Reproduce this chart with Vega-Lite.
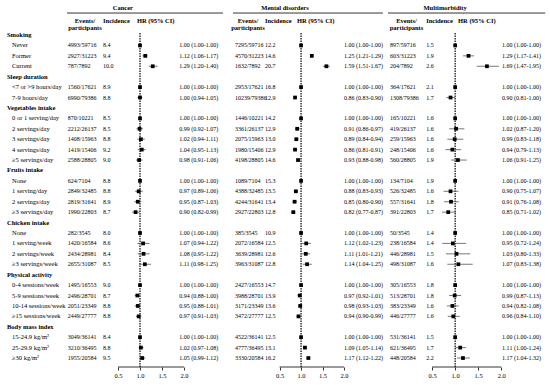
{
"$schema": "https://vega.github.io/schema/vega-lite/v6.json",
"padding": 0,
"spacing": 0,
"bounds": "flush",
"config": {"view": {"stroke": null}, "font": "Liberation Serif", "text": {"font": "Liberation Serif", "color": "#000"}},
"datasets": {
"labels": [
{"id":1,"label":"Smoking","t":"h"},{"id":2,"label":"Never","t":"i"},{"id":3,"label":"Former","t":"i"},{"id":4,"label":"Current","t":"i"},
{"id":5,"label":"Sleep duration","t":"h"},{"id":6,"label":"<7 or >9 hours/day","t":"i"},{"id":7,"label":"7-9 hours/day","t":"i"},
{"id":8,"label":"Vegetables intake","t":"h"},{"id":9,"label":"0 or 1 serving/day","t":"i"},{"id":10,"label":"2 servings/day","t":"i"},{"id":11,"label":"3 servings/day","t":"i"},{"id":12,"label":"4 servings/day","t":"i"},{"id":13,"label":"≥5 servings/day","t":"i"},
{"id":14,"label":"Fruits intake","t":"h"},{"id":15,"label":"None","t":"i"},{"id":16,"label":"1 serving/day","t":"i"},{"id":17,"label":"2 servings/day","t":"i"},{"id":18,"label":"≥3 servings/day","t":"i"},
{"id":19,"label":"Chicken intake","t":"h"},{"id":20,"label":"None","t":"i"},{"id":21,"label":"1 serving/week","t":"i"},{"id":22,"label":"2 servings/week","t":"i"},{"id":23,"label":"≥3 servings/week","t":"i"},
{"id":24,"label":"Physical activity","t":"h"},{"id":25,"label":"0-4 sessions/week","t":"i"},{"id":26,"label":"5-9 sessions/week","t":"i"},{"id":27,"label":"10-14 sessions/week","t":"i"},{"id":28,"label":"≥15 sessions/week","t":"i"},
{"id":29,"label":"Body mass index","t":"h"},{"id":30,"label":"15-24.9 kg/m²","t":"i"},{"id":31,"label":"25-29.9 kg/m²","t":"i"},{"id":32,"label":"≥30 kg/m²","t":"i"}
],
"res": [
{"o":"C","id":2,"ev":"4993/59716","inc":8.4,"hr":1.00,"lo":1.00,"hi":1.00},
{"o":"C","id":3,"ev":"2927/31223","inc":9.4,"hr":1.12,"lo":1.06,"hi":1.17},
{"o":"C","id":4,"ev":"787/7892","inc":10.0,"hr":1.29,"lo":1.20,"hi":1.40},
{"o":"C","id":6,"ev":"1560/17621","inc":8.9,"hr":1.00,"lo":1.00,"hi":1.00},
{"o":"C","id":7,"ev":"6990/79386","inc":8.8,"hr":1.00,"lo":0.94,"hi":1.05},
{"o":"C","id":9,"ev":"870/10221","inc":8.5,"hr":1.00,"lo":1.00,"hi":1.00},
{"o":"C","id":10,"ev":"2212/26137","inc":8.5,"hr":0.99,"lo":0.92,"hi":1.07},
{"o":"C","id":11,"ev":"1408/15963","inc":8.8,"hr":1.02,"lo":0.94,"hi":1.11},
{"o":"C","id":12,"ev":"1419/15406","inc":9.2,"hr":1.04,"lo":0.95,"hi":1.13},
{"o":"C","id":13,"ev":"2588/28805","inc":9.0,"hr":0.98,"lo":0.91,"hi":1.06},
{"o":"C","id":15,"ev":"624/7104","inc":8.8,"hr":1.00,"lo":1.00,"hi":1.00},
{"o":"C","id":16,"ev":"2849/32485","inc":8.8,"hr":0.97,"lo":0.89,"hi":1.06},
{"o":"C","id":17,"ev":"2819/31641","inc":8.9,"hr":0.95,"lo":0.87,"hi":1.03},
{"o":"C","id":18,"ev":"1990/22803","inc":8.7,"hr":0.90,"lo":0.82,"hi":0.99},
{"o":"C","id":20,"ev":"282/3545","inc":8.0,"hr":1.00,"lo":1.00,"hi":1.00},
{"o":"C","id":21,"ev":"1420/16584","inc":8.6,"hr":1.07,"lo":0.94,"hi":1.22},
{"o":"C","id":22,"ev":"2434/28981","inc":8.4,"hr":1.08,"lo":0.95,"hi":1.22},
{"o":"C","id":23,"ev":"2655/31087","inc":8.5,"hr":1.11,"lo":0.98,"hi":1.25},
{"o":"C","id":25,"ev":"1495/16553","inc":9.0,"hr":1.00,"lo":1.00,"hi":1.00},
{"o":"C","id":26,"ev":"2496/28701","inc":8.7,"hr":0.94,"lo":0.88,"hi":1.00},
{"o":"C","id":27,"ev":"2051/23349","inc":8.8,"hr":0.95,"lo":0.88,"hi":1.01},
{"o":"C","id":28,"ev":"2449/27777","inc":8.8,"hr":0.97,"lo":0.91,"hi":1.03},
{"o":"C","id":30,"ev":"3049/36141","inc":8.4,"hr":1.00,"lo":1.00,"hi":1.00},
{"o":"C","id":31,"ev":"3210/36495","inc":8.8,"hr":1.02,"lo":0.97,"hi":1.08},
{"o":"C","id":32,"ev":"1955/20584","inc":9.5,"hr":1.05,"lo":0.99,"hi":1.12},
{"o":"M","id":2,"ev":"7295/59716","inc":12.2,"hr":1.00,"lo":1.00,"hi":1.00},
{"o":"M","id":3,"ev":"4570/31223","inc":14.6,"hr":1.25,"lo":1.21,"hi":1.29},
{"o":"M","id":4,"ev":"1632/7892","inc":20.7,"hr":1.59,"lo":1.51,"hi":1.67},
{"o":"M","id":6,"ev":"2953/17621","inc":16.8,"hr":1.00,"lo":1.00,"hi":1.00},
{"o":"M","id":7,"ev":"10239/79386","inc":12.9,"hr":0.86,"lo":0.83,"hi":0.90},
{"o":"M","id":9,"ev":"1446/10221","inc":14.2,"hr":1.00,"lo":1.00,"hi":1.00},
{"o":"M","id":10,"ev":"3361/26137","inc":12.9,"hr":0.91,"lo":0.86,"hi":0.97},
{"o":"M","id":11,"ev":"2075/15963","inc":13.0,"hr":0.89,"lo":0.84,"hi":0.94},
{"o":"M","id":12,"ev":"1980/15406","inc":12.9,"hr":0.86,"lo":0.81,"hi":0.91},
{"o":"M","id":13,"ev":"4198/28805","inc":14.6,"hr":0.93,"lo":0.88,"hi":0.98},
{"o":"M","id":15,"ev":"1089/7104","inc":15.3,"hr":1.00,"lo":1.00,"hi":1.00},
{"o":"M","id":16,"ev":"4388/32485","inc":13.5,"hr":0.88,"lo":0.83,"hi":0.93},
{"o":"M","id":17,"ev":"4244/31641","inc":13.4,"hr":0.85,"lo":0.80,"hi":0.90},
{"o":"M","id":18,"ev":"2927/22803","inc":12.8,"hr":0.82,"lo":0.77,"hi":0.87},
{"o":"M","id":20,"ev":"385/3545","inc":10.9,"hr":1.00,"lo":1.00,"hi":1.00},
{"o":"M","id":21,"ev":"2072/16584","inc":12.5,"hr":1.12,"lo":1.02,"hi":1.23},
{"o":"M","id":22,"ev":"3639/28981","inc":12.6,"hr":1.11,"lo":1.01,"hi":1.21},
{"o":"M","id":23,"ev":"3963/31087","inc":12.8,"hr":1.14,"lo":1.04,"hi":1.25},
{"o":"M","id":25,"ev":"2427/16553","inc":14.7,"hr":1.00,"lo":1.00,"hi":1.00},
{"o":"M","id":26,"ev":"3988/28701","inc":13.9,"hr":0.97,"lo":0.92,"hi":1.01},
{"o":"M","id":27,"ev":"3171/23349","inc":13.6,"hr":0.98,"lo":0.93,"hi":1.03},
{"o":"M","id":28,"ev":"3472/27777","inc":12.5,"hr":0.94,"lo":0.90,"hi":0.99},
{"o":"M","id":30,"ev":"4522/36141","inc":12.5,"hr":1.00,"lo":1.00,"hi":1.00},
{"o":"M","id":31,"ev":"4777/36495","inc":13.1,"hr":1.09,"lo":1.05,"hi":1.14},
{"o":"M","id":32,"ev":"3330/20584","inc":16.2,"hr":1.17,"lo":1.12,"hi":1.22},
{"o":"U","id":2,"ev":"897/59716","inc":1.5,"hr":1.00,"lo":1.00,"hi":1.00},
{"o":"U","id":3,"ev":"603/31223","inc":1.9,"hr":1.29,"lo":1.17,"hi":1.41},
{"o":"U","id":4,"ev":"204/7892","inc":2.6,"hr":1.69,"lo":1.47,"hi":1.95},
{"o":"U","id":6,"ev":"364/17621","inc":2.1,"hr":1.00,"lo":1.00,"hi":1.00},
{"o":"U","id":7,"ev":"1308/79386","inc":1.7,"hr":0.90,"lo":0.81,"hi":1.00},
{"o":"U","id":9,"ev":"165/10221","inc":1.6,"hr":1.00,"lo":1.00,"hi":1.00},
{"o":"U","id":10,"ev":"419/26137","inc":1.6,"hr":1.02,"lo":0.87,"hi":1.20},
{"o":"U","id":11,"ev":"259/15963","inc":1.6,"hr":0.99,"lo":0.83,"hi":1.18},
{"o":"U","id":12,"ev":"248/15406","inc":1.6,"hr":0.94,"lo":0.79,"hi":1.13},
{"o":"U","id":13,"ev":"560/28805","inc":1.9,"hr":1.06,"lo":0.91,"hi":1.25},
{"o":"U","id":15,"ev":"134/7104","inc":1.9,"hr":1.00,"lo":1.00,"hi":1.00},
{"o":"U","id":16,"ev":"526/32485","inc":1.6,"hr":0.90,"lo":0.75,"hi":1.07},
{"o":"U","id":17,"ev":"557/31641","inc":1.8,"hr":0.91,"lo":0.76,"hi":1.08},
{"o":"U","id":18,"ev":"391/22803","inc":1.7,"hr":0.85,"lo":0.71,"hi":1.02},
{"o":"U","id":20,"ev":"50/3545","inc":1.4,"hr":1.00,"lo":1.00,"hi":1.00},
{"o":"U","id":21,"ev":"238/16584","inc":1.4,"hr":0.95,"lo":0.72,"hi":1.24},
{"o":"U","id":22,"ev":"446/28981","inc":1.5,"hr":1.03,"lo":0.80,"hi":1.33},
{"o":"U","id":23,"ev":"498/31087","inc":1.6,"hr":1.07,"lo":0.83,"hi":1.38},
{"o":"U","id":25,"ev":"305/16553","inc":1.8,"hr":1.00,"lo":1.00,"hi":1.00},
{"o":"U","id":26,"ev":"513/28701","inc":1.8,"hr":0.99,"lo":0.87,"hi":1.13},
{"o":"U","id":27,"ev":"383/23349","inc":1.6,"hr":0.94,"lo":0.82,"hi":1.08},
{"o":"U","id":28,"ev":"446/27777","inc":1.6,"hr":0.96,"lo":0.84,"hi":1.10},
{"o":"U","id":30,"ev":"531/36141","inc":1.5,"hr":1.00,"lo":1.00,"hi":1.00},
{"o":"U","id":31,"ev":"621/36495","inc":1.7,"hr":1.11,"lo":1.00,"hi":1.24},
{"o":"U","id":32,"ev":"448/20584","inc":2.2,"hr":1.17,"lo":1.04,"hi":1.32}
]
},
"hconcat": [
{
"width": 63, "height": 367,
"data": {"name": "labels"},
"layer": [
{"transform": [{"filter": "datum.t=='h'"}],
 "mark": {"type": "text", "align": "left", "baseline": "middle", "dx": 7, "fontSize": 6.5, "fontWeight": "bold"},
 "encoding": {"x": {"value": 0}, "y": {"field": "id", "type": "quantitative", "axis": null, "scale": {"domain": [-2.36, 32.86], "reverse": true, "nice": false, "zero": false}}, "text": {"field": "label"}}},
{"transform": [{"filter": "datum.t=='i'"}],
 "mark": {"type": "text", "align": "left", "baseline": "middle", "dx": 12, "fontSize": 6.5},
 "encoding": {"x": {"value": 0}, "y": {"field": "id", "type": "quantitative", "axis": null, "scale": {"domain": [-2.36, 32.86], "reverse": true, "nice": false, "zero": false}}, "text": {"field": "label"}}}
]
},
{
"width": 165, "height": 367,
"data": {"name": "res"},
"transform": [{"filter": "datum.o=='C'"}, {"calculate": "format(datum.hr,'.2f') + ' (' + format(datum.lo,'.2f') + '-' + format(datum.hi,'.2f') + ')'", "as": "hrt"}],
"layer": [
{"data": {"values": [{}]}, "mark": {"type": "rule", "color": "#000", "strokeWidth": 0.8},
 "encoding": {"x": {"datum": -0.66, "type": "quantitative", "scale": {"domain": [-0.75, 3.0], "nice": false, "zero": false}, "axis": {"values": [0.5, 1, 1.5, 2], "format": ".1f", "domain": false, "grid": false, "title": null, "tickSize": 3, "tickColor": "#000", "tickWidth": 0.8, "labelFontSize": 6.5, "labelColor": "#000", "labelPadding": 2, "labelFont": "Liberation Serif"}}, "x2": {"datum": 2.886},
  "y": {"datum": -1.11, "type": "quantitative", "axis": null, "scale": {"domain": [-2.36, 32.86], "reverse": true, "nice": false, "zero": false}}}},
{"data": {"values": [{}]}, "mark": {"type": "text", "align": "center", "baseline": "middle", "fontSize": 6.5, "fontWeight": "bold"},
 "encoding": {"x": {"datum": 0.61, "type": "quantitative", "scale": {"domain": [-0.75, 3.0], "nice": false, "zero": false}, "axis": {"values": [0.5, 1, 1.5, 2], "format": ".1f", "domain": false, "grid": false, "title": null, "tickSize": 3, "tickColor": "#000", "tickWidth": 0.8, "labelFontSize": 6.5, "labelColor": "#000", "labelPadding": 2, "labelFont": "Liberation Serif"}},
  "y": {"datum": -1.59, "type": "quantitative", "axis": null, "scale": {"domain": [-2.36, 32.86], "reverse": true, "nice": false, "zero": false}}, "text": {"value": "Cancer"}}},
{"data": {"values": [{}]}, "mark": {"type": "text", "align": "center", "baseline": "middle", "fontSize": 6.5, "fontWeight": "bold", "lineHeight": 7.5},
 "encoding": {"x": {"datum": -0.25, "type": "quantitative", "scale": {"domain": [-0.75, 3.0], "nice": false, "zero": false}, "axis": {"values": [0.5, 1, 1.5, 2], "format": ".1f", "domain": false, "grid": false, "title": null, "tickSize": 3, "tickColor": "#000", "tickWidth": 0.8, "labelFontSize": 6.5, "labelColor": "#000", "labelPadding": 2, "labelFont": "Liberation Serif"}},
  "y": {"datum": -0.37, "type": "quantitative", "axis": null, "scale": {"domain": [-2.36, 32.86], "reverse": true, "nice": false, "zero": false}}, "text": {"value": ["Events/", "participants"]}}},
{"data": {"values": [{}]}, "mark": {"type": "text", "align": "left", "baseline": "middle", "fontSize": 6.5, "fontWeight": "bold"},
 "encoding": {"x": {"datum": 0.16, "type": "quantitative", "scale": {"domain": [-0.75, 3.0], "nice": false, "zero": false}, "axis": {"values": [0.5, 1, 1.5, 2], "format": ".1f", "domain": false, "grid": false, "title": null, "tickSize": 3, "tickColor": "#000", "tickWidth": 0.8, "labelFontSize": 6.5, "labelColor": "#000", "labelPadding": 2, "labelFont": "Liberation Serif"}},
  "y": {"datum": -0.34, "type": "quantitative", "axis": null, "scale": {"domain": [-2.36, 32.86], "reverse": true, "nice": false, "zero": false}}, "text": {"value": "Incidence"}}},
{"data": {"values": [{}]}, "mark": {"type": "text", "align": "left", "baseline": "middle", "fontSize": 6.5, "fontWeight": "bold"},
 "encoding": {"x": {"datum": 0.93, "type": "quantitative", "scale": {"domain": [-0.75, 3.0], "nice": false, "zero": false}, "axis": {"values": [0.5, 1, 1.5, 2], "format": ".1f", "domain": false, "grid": false, "title": null, "tickSize": 3, "tickColor": "#000", "tickWidth": 0.8, "labelFontSize": 6.5, "labelColor": "#000", "labelPadding": 2, "labelFont": "Liberation Serif"}},
  "y": {"datum": -0.34, "type": "quantitative", "axis": null, "scale": {"domain": [-2.36, 32.86], "reverse": true, "nice": false, "zero": false}}, "text": {"value": "HR (95% CI)"}}},
{"mark": {"type": "text", "align": "left", "baseline": "middle", "fontSize": 6},
 "encoding": {"x": {"datum": -0.64, "type": "quantitative", "scale": {"domain": [-0.75, 3.0], "nice": false, "zero": false}, "axis": {"values": [0.5, 1, 1.5, 2], "format": ".1f", "domain": false, "grid": false, "title": null, "tickSize": 3, "tickColor": "#000", "tickWidth": 0.8, "labelFontSize": 6.5, "labelColor": "#000", "labelPadding": 2, "labelFont": "Liberation Serif"}},
  "y": {"field": "id", "type": "quantitative", "axis": null, "scale": {"domain": [-2.36, 32.86], "reverse": true, "nice": false, "zero": false}}, "text": {"field": "ev"}}},
{"mark": {"type": "text", "align": "left", "baseline": "middle", "fontSize": 6},
 "encoding": {"x": {"datum": 0.16, "type": "quantitative", "scale": {"domain": [-0.75, 3.0], "nice": false, "zero": false}, "axis": {"values": [0.5, 1, 1.5, 2], "format": ".1f", "domain": false, "grid": false, "title": null, "tickSize": 3, "tickColor": "#000", "tickWidth": 0.8, "labelFontSize": 6.5, "labelColor": "#000", "labelPadding": 2, "labelFont": "Liberation Serif"}},
  "y": {"field": "id", "type": "quantitative", "axis": null, "scale": {"domain": [-2.36, 32.86], "reverse": true, "nice": false, "zero": false}}, "text": {"field": "inc", "format": ".1f"}}},
{"mark": {"type": "text", "align": "left", "baseline": "middle", "fontSize": 6},
 "encoding": {"x": {"datum": 1.89, "type": "quantitative", "scale": {"domain": [-0.75, 3.0], "nice": false, "zero": false}, "axis": {"values": [0.5, 1, 1.5, 2], "format": ".1f", "domain": false, "grid": false, "title": null, "tickSize": 3, "tickColor": "#000", "tickWidth": 0.8, "labelFontSize": 6.5, "labelColor": "#000", "labelPadding": 2, "labelFont": "Liberation Serif"}},
  "y": {"field": "id", "type": "quantitative", "axis": null, "scale": {"domain": [-2.36, 32.86], "reverse": true, "nice": false, "zero": false}}, "text": {"field": "hrt"}}},
{"data": {"values": [{}]}, "mark": {"type": "rule", "color": "#000", "strokeWidth": 1.2, "strokeDash": [1.5, 1]},
 "encoding": {"x": {"datum": 1.0, "type": "quantitative", "scale": {"domain": [-0.75, 3.0], "nice": false, "zero": false}, "axis": {"values": [0.5, 1, 1.5, 2], "format": ".1f", "domain": false, "grid": false, "title": null, "tickSize": 3, "tickColor": "#000", "tickWidth": 0.8, "labelFontSize": 6.5, "labelColor": "#000", "labelPadding": 2, "labelFont": "Liberation Serif"}},
  "y": {"datum": 0.8, "type": "quantitative", "axis": null, "scale": {"domain": [-2.36, 32.86], "reverse": true, "nice": false, "zero": false}}, "y2": {"datum": 32.86}}},
{"data": {"values": [{}]}, "mark": {"type": "rule", "color": "#000", "strokeWidth": 0.8},
 "encoding": {"x": {"datum": 0.5, "type": "quantitative", "scale": {"domain": [-0.75, 3.0], "nice": false, "zero": false}, "axis": {"values": [0.5, 1, 1.5, 2], "format": ".1f", "domain": false, "grid": false, "title": null, "tickSize": 3, "tickColor": "#000", "tickWidth": 0.8, "labelFontSize": 6.5, "labelColor": "#000", "labelPadding": 2, "labelFont": "Liberation Serif"}}, "x2": {"datum": 2.0},
  "y": {"datum": 32.86, "type": "quantitative", "axis": null, "scale": {"domain": [-2.36, 32.86], "reverse": true, "nice": false, "zero": false}}}},
{"mark": {"type": "rule", "color": "#555", "strokeWidth": 0.8},
 "encoding": {"x": {"field": "lo", "type": "quantitative", "scale": {"domain": [-0.75, 3.0], "nice": false, "zero": false}, "axis": {"values": [0.5, 1, 1.5, 2], "format": ".1f", "domain": false, "grid": false, "title": null, "tickSize": 3, "tickColor": "#000", "tickWidth": 0.8, "labelFontSize": 6.5, "labelColor": "#000", "labelPadding": 2, "labelFont": "Liberation Serif"}}, "x2": {"field": "hi"},
  "y": {"field": "id", "type": "quantitative", "axis": null, "scale": {"domain": [-2.36, 32.86], "reverse": true, "nice": false, "zero": false}}}},
{"mark": {"type": "square", "color": "#000", "size": 14, "opacity": 1},
 "encoding": {"x": {"field": "hr", "type": "quantitative", "scale": {"domain": [-0.75, 3.0], "nice": false, "zero": false}, "axis": {"values": [0.5, 1, 1.5, 2], "format": ".1f", "domain": false, "grid": false, "title": null, "tickSize": 3, "tickColor": "#000", "tickWidth": 0.8, "labelFontSize": 6.5, "labelColor": "#000", "labelPadding": 2, "labelFont": "Liberation Serif"}},
  "y": {"field": "id", "type": "quantitative", "axis": null, "scale": {"domain": [-2.36, 32.86], "reverse": true, "nice": false, "zero": false}}}}
]
},
{
"width": 159, "height": 367,
"data": {"name": "res"},
"transform": [{"filter": "datum.o=='M'"}, {"calculate": "format(datum.hr,'.2f') + ' (' + format(datum.lo,'.2f') + '-' + format(datum.hi,'.2f') + ')'", "as": "hrt"}],
"layer": [
{"data": {"values": [{}]}, "mark": {"type": "rule", "color": "#000", "strokeWidth": 0.8},
 "encoding": {"x": {"datum": -0.584, "type": "quantitative", "scale": {"domain": [-0.7, 3.0], "nice": false, "zero": false}, "axis": {"values": [0.5, 1, 1.5, 2], "format": ".1f", "domain": false, "grid": false, "title": null, "tickSize": 3, "tickColor": "#000", "tickWidth": 0.8, "labelFontSize": 6.5, "labelColor": "#000", "labelPadding": 2, "labelFont": "Liberation Serif"}}, "x2": {"datum": 2.905},
  "y": {"datum": -1.11, "type": "quantitative", "axis": null, "scale": {"domain": [-2.36, 32.86], "reverse": true, "nice": false, "zero": false}}}},
{"data": {"values": [{}]}, "mark": {"type": "text", "align": "center", "baseline": "middle", "fontSize": 6.5, "fontWeight": "bold"},
 "encoding": {"x": {"datum": 0.626, "type": "quantitative", "scale": {"domain": [-0.7, 3.0], "nice": false, "zero": false}, "axis": {"values": [0.5, 1, 1.5, 2], "format": ".1f", "domain": false, "grid": false, "title": null, "tickSize": 3, "tickColor": "#000", "tickWidth": 0.8, "labelFontSize": 6.5, "labelColor": "#000", "labelPadding": 2, "labelFont": "Liberation Serif"}},
  "y": {"datum": -1.59, "type": "quantitative", "axis": null, "scale": {"domain": [-2.36, 32.86], "reverse": true, "nice": false, "zero": false}}, "text": {"value": "Mental disorders"}}},
{"data": {"values": [{}]}, "mark": {"type": "text", "align": "center", "baseline": "middle", "fontSize": 6.5, "fontWeight": "bold", "lineHeight": 7.5},
 "encoding": {"x": {"datum": -0.235, "type": "quantitative", "scale": {"domain": [-0.7, 3.0], "nice": false, "zero": false}, "axis": {"values": [0.5, 1, 1.5, 2], "format": ".1f", "domain": false, "grid": false, "title": null, "tickSize": 3, "tickColor": "#000", "tickWidth": 0.8, "labelFontSize": 6.5, "labelColor": "#000", "labelPadding": 2, "labelFont": "Liberation Serif"}},
  "y": {"datum": -0.37, "type": "quantitative", "axis": null, "scale": {"domain": [-2.36, 32.86], "reverse": true, "nice": false, "zero": false}}, "text": {"value": ["Events/", "participants"]}}},
{"data": {"values": [{}]}, "mark": {"type": "text", "align": "left", "baseline": "middle", "fontSize": 6.5, "fontWeight": "bold"},
 "encoding": {"x": {"datum": 0.16, "type": "quantitative", "scale": {"domain": [-0.7, 3.0], "nice": false, "zero": false}, "axis": {"values": [0.5, 1, 1.5, 2], "format": ".1f", "domain": false, "grid": false, "title": null, "tickSize": 3, "tickColor": "#000", "tickWidth": 0.8, "labelFontSize": 6.5, "labelColor": "#000", "labelPadding": 2, "labelFont": "Liberation Serif"}},
  "y": {"datum": -0.34, "type": "quantitative", "axis": null, "scale": {"domain": [-2.36, 32.86], "reverse": true, "nice": false, "zero": false}}, "text": {"value": "Incidence"}}},
{"data": {"values": [{}]}, "mark": {"type": "text", "align": "left", "baseline": "middle", "fontSize": 6.5, "fontWeight": "bold"},
 "encoding": {"x": {"datum": 0.905, "type": "quantitative", "scale": {"domain": [-0.7, 3.0], "nice": false, "zero": false}, "axis": {"values": [0.5, 1, 1.5, 2], "format": ".1f", "domain": false, "grid": false, "title": null, "tickSize": 3, "tickColor": "#000", "tickWidth": 0.8, "labelFontSize": 6.5, "labelColor": "#000", "labelPadding": 2, "labelFont": "Liberation Serif"}},
  "y": {"datum": -0.34, "type": "quantitative", "axis": null, "scale": {"domain": [-2.36, 32.86], "reverse": true, "nice": false, "zero": false}}, "text": {"value": "HR (95% CI)"}}},
{"mark": {"type": "text", "align": "left", "baseline": "middle", "fontSize": 6},
 "encoding": {"x": {"datum": -0.54, "type": "quantitative", "scale": {"domain": [-0.7, 3.0], "nice": false, "zero": false}, "axis": {"values": [0.5, 1, 1.5, 2], "format": ".1f", "domain": false, "grid": false, "title": null, "tickSize": 3, "tickColor": "#000", "tickWidth": 0.8, "labelFontSize": 6.5, "labelColor": "#000", "labelPadding": 2, "labelFont": "Liberation Serif"}},
  "y": {"field": "id", "type": "quantitative", "axis": null, "scale": {"domain": [-2.36, 32.86], "reverse": true, "nice": false, "zero": false}}, "text": {"field": "ev"}}},
{"mark": {"type": "text", "align": "left", "baseline": "middle", "fontSize": 6},
 "encoding": {"x": {"datum": 0.16, "type": "quantitative", "scale": {"domain": [-0.7, 3.0], "nice": false, "zero": false}, "axis": {"values": [0.5, 1, 1.5, 2], "format": ".1f", "domain": false, "grid": false, "title": null, "tickSize": 3, "tickColor": "#000", "tickWidth": 0.8, "labelFontSize": 6.5, "labelColor": "#000", "labelPadding": 2, "labelFont": "Liberation Serif"}},
  "y": {"field": "id", "type": "quantitative", "axis": null, "scale": {"domain": [-2.36, 32.86], "reverse": true, "nice": false, "zero": false}}, "text": {"field": "inc", "format": ".1f"}}},
{"mark": {"type": "text", "align": "left", "baseline": "middle", "fontSize": 6},
 "encoding": {"x": {"datum": 2.0, "type": "quantitative", "scale": {"domain": [-0.7, 3.0], "nice": false, "zero": false}, "axis": {"values": [0.5, 1, 1.5, 2], "format": ".1f", "domain": false, "grid": false, "title": null, "tickSize": 3, "tickColor": "#000", "tickWidth": 0.8, "labelFontSize": 6.5, "labelColor": "#000", "labelPadding": 2, "labelFont": "Liberation Serif"}},
  "y": {"field": "id", "type": "quantitative", "axis": null, "scale": {"domain": [-2.36, 32.86], "reverse": true, "nice": false, "zero": false}}, "text": {"field": "hrt"}}},
{"data": {"values": [{}]}, "mark": {"type": "rule", "color": "#000", "strokeWidth": 1.2, "strokeDash": [1.5, 1]},
 "encoding": {"x": {"datum": 1.0, "type": "quantitative", "scale": {"domain": [-0.7, 3.0], "nice": false, "zero": false}, "axis": {"values": [0.5, 1, 1.5, 2], "format": ".1f", "domain": false, "grid": false, "title": null, "tickSize": 3, "tickColor": "#000", "tickWidth": 0.8, "labelFontSize": 6.5, "labelColor": "#000", "labelPadding": 2, "labelFont": "Liberation Serif"}},
  "y": {"datum": 0.8, "type": "quantitative", "axis": null, "scale": {"domain": [-2.36, 32.86], "reverse": true, "nice": false, "zero": false}}, "y2": {"datum": 32.86}}},
{"data": {"values": [{}]}, "mark": {"type": "rule", "color": "#000", "strokeWidth": 0.8},
 "encoding": {"x": {"datum": 0.5, "type": "quantitative", "scale": {"domain": [-0.7, 3.0], "nice": false, "zero": false}, "axis": {"values": [0.5, 1, 1.5, 2], "format": ".1f", "domain": false, "grid": false, "title": null, "tickSize": 3, "tickColor": "#000", "tickWidth": 0.8, "labelFontSize": 6.5, "labelColor": "#000", "labelPadding": 2, "labelFont": "Liberation Serif"}}, "x2": {"datum": 2.0},
  "y": {"datum": 32.86, "type": "quantitative", "axis": null, "scale": {"domain": [-2.36, 32.86], "reverse": true, "nice": false, "zero": false}}}},
{"mark": {"type": "rule", "color": "#555", "strokeWidth": 0.8},
 "encoding": {"x": {"field": "lo", "type": "quantitative", "scale": {"domain": [-0.7, 3.0], "nice": false, "zero": false}, "axis": {"values": [0.5, 1, 1.5, 2], "format": ".1f", "domain": false, "grid": false, "title": null, "tickSize": 3, "tickColor": "#000", "tickWidth": 0.8, "labelFontSize": 6.5, "labelColor": "#000", "labelPadding": 2, "labelFont": "Liberation Serif"}}, "x2": {"field": "hi"},
  "y": {"field": "id", "type": "quantitative", "axis": null, "scale": {"domain": [-2.36, 32.86], "reverse": true, "nice": false, "zero": false}}}},
{"mark": {"type": "square", "color": "#000", "size": 14, "opacity": 1},
 "encoding": {"x": {"field": "hr", "type": "quantitative", "scale": {"domain": [-0.7, 3.0], "nice": false, "zero": false}, "axis": {"values": [0.5, 1, 1.5, 2], "format": ".1f", "domain": false, "grid": false, "title": null, "tickSize": 3, "tickColor": "#000", "tickWidth": 0.8, "labelFontSize": 6.5, "labelColor": "#000", "labelPadding": 2, "labelFont": "Liberation Serif"}},
  "y": {"field": "id", "type": "quantitative", "axis": null, "scale": {"domain": [-2.36, 32.86], "reverse": true, "nice": false, "zero": false}}}}
]
},
{
"width": 163, "height": 367,
"data": {"name": "res"},
"transform": [{"filter": "datum.o=='U'"}, {"calculate": "format(datum.hr,'.2f') + ' (' + format(datum.lo,'.2f') + '-' + format(datum.hi,'.2f') + ')'", "as": "hrt"}],
"layer": [
{"data": {"values": [{}]}, "mark": {"type": "rule", "color": "#000", "strokeWidth": 0.8},
 "encoding": {"x": {"datum": -0.458, "type": "quantitative", "scale": {"domain": [-0.48, 3.06], "nice": false, "zero": false}, "axis": {"values": [0.5, 1, 1.5, 2], "format": ".1f", "domain": false, "grid": false, "title": null, "tickSize": 3, "tickColor": "#000", "tickWidth": 0.8, "labelFontSize": 6.5, "labelColor": "#000", "labelPadding": 2, "labelFont": "Liberation Serif"}}, "x2": {"datum": 2.955},
  "y": {"datum": -1.11, "type": "quantitative", "axis": null, "scale": {"domain": [-2.36, 32.86], "reverse": true, "nice": false, "zero": false}}}},
{"data": {"values": [{}]}, "mark": {"type": "text", "align": "center", "baseline": "middle", "fontSize": 6.5, "fontWeight": "bold"},
 "encoding": {"x": {"datum": 0.781, "type": "quantitative", "scale": {"domain": [-0.48, 3.06], "nice": false, "zero": false}, "axis": {"values": [0.5, 1, 1.5, 2], "format": ".1f", "domain": false, "grid": false, "title": null, "tickSize": 3, "tickColor": "#000", "tickWidth": 0.8, "labelFontSize": 6.5, "labelColor": "#000", "labelPadding": 2, "labelFont": "Liberation Serif"}},
  "y": {"datum": -1.59, "type": "quantitative", "axis": null, "scale": {"domain": [-2.36, 32.86], "reverse": true, "nice": false, "zero": false}}, "text": {"value": "Multimorbidity"}}},
{"data": {"values": [{}]}, "mark": {"type": "text", "align": "center", "baseline": "middle", "fontSize": 6.5, "fontWeight": "bold", "lineHeight": 7.5},
 "encoding": {"x": {"datum": -0.056, "type": "quantitative", "scale": {"domain": [-0.48, 3.06], "nice": false, "zero": false}, "axis": {"values": [0.5, 1, 1.5, 2], "format": ".1f", "domain": false, "grid": false, "title": null, "tickSize": 3, "tickColor": "#000", "tickWidth": 0.8, "labelFontSize": 6.5, "labelColor": "#000", "labelPadding": 2, "labelFont": "Liberation Serif"}},
  "y": {"datum": -0.37, "type": "quantitative", "axis": null, "scale": {"domain": [-2.36, 32.86], "reverse": true, "nice": false, "zero": false}}, "text": {"value": ["Events/", "participants"]}}},
{"data": {"values": [{}]}, "mark": {"type": "text", "align": "left", "baseline": "middle", "fontSize": 6.5, "fontWeight": "bold"},
 "encoding": {"x": {"datum": 0.37, "type": "quantitative", "scale": {"domain": [-0.48, 3.06], "nice": false, "zero": false}, "axis": {"values": [0.5, 1, 1.5, 2], "format": ".1f", "domain": false, "grid": false, "title": null, "tickSize": 3, "tickColor": "#000", "tickWidth": 0.8, "labelFontSize": 6.5, "labelColor": "#000", "labelPadding": 2, "labelFont": "Liberation Serif"}},
  "y": {"datum": -0.34, "type": "quantitative", "axis": null, "scale": {"domain": [-2.36, 32.86], "reverse": true, "nice": false, "zero": false}}, "text": {"value": "Incidence"}}},
{"data": {"values": [{}]}, "mark": {"type": "text", "align": "left", "baseline": "middle", "fontSize": 6.5, "fontWeight": "bold"},
 "encoding": {"x": {"datum": 1.063, "type": "quantitative", "scale": {"domain": [-0.48, 3.06], "nice": false, "zero": false}, "axis": {"values": [0.5, 1, 1.5, 2], "format": ".1f", "domain": false, "grid": false, "title": null, "tickSize": 3, "tickColor": "#000", "tickWidth": 0.8, "labelFontSize": 6.5, "labelColor": "#000", "labelPadding": 2, "labelFont": "Liberation Serif"}},
  "y": {"datum": -0.34, "type": "quantitative", "axis": null, "scale": {"domain": [-2.36, 32.86], "reverse": true, "nice": false, "zero": false}}, "text": {"value": "HR (95% CI)"}}},
{"mark": {"type": "text", "align": "left", "baseline": "middle", "fontSize": 6},
 "encoding": {"x": {"datum": -0.415, "type": "quantitative", "scale": {"domain": [-0.48, 3.06], "nice": false, "zero": false}, "axis": {"values": [0.5, 1, 1.5, 2], "format": ".1f", "domain": false, "grid": false, "title": null, "tickSize": 3, "tickColor": "#000", "tickWidth": 0.8, "labelFontSize": 6.5, "labelColor": "#000", "labelPadding": 2, "labelFont": "Liberation Serif"}},
  "y": {"field": "id", "type": "quantitative", "axis": null, "scale": {"domain": [-2.36, 32.86], "reverse": true, "nice": false, "zero": false}}, "text": {"field": "ev"}}},
{"mark": {"type": "text", "align": "left", "baseline": "middle", "fontSize": 6},
 "encoding": {"x": {"datum": 0.37, "type": "quantitative", "scale": {"domain": [-0.48, 3.06], "nice": false, "zero": false}, "axis": {"values": [0.5, 1, 1.5, 2], "format": ".1f", "domain": false, "grid": false, "title": null, "tickSize": 3, "tickColor": "#000", "tickWidth": 0.8, "labelFontSize": 6.5, "labelColor": "#000", "labelPadding": 2, "labelFont": "Liberation Serif"}},
  "y": {"field": "id", "type": "quantitative", "axis": null, "scale": {"domain": [-2.36, 32.86], "reverse": true, "nice": false, "zero": false}}, "text": {"field": "inc", "format": ".1f"}}},
{"mark": {"type": "text", "align": "left", "baseline": "middle", "fontSize": 6},
 "encoding": {"x": {"datum": 2.02, "type": "quantitative", "scale": {"domain": [-0.48, 3.06], "nice": false, "zero": false}, "axis": {"values": [0.5, 1, 1.5, 2], "format": ".1f", "domain": false, "grid": false, "title": null, "tickSize": 3, "tickColor": "#000", "tickWidth": 0.8, "labelFontSize": 6.5, "labelColor": "#000", "labelPadding": 2, "labelFont": "Liberation Serif"}},
  "y": {"field": "id", "type": "quantitative", "axis": null, "scale": {"domain": [-2.36, 32.86], "reverse": true, "nice": false, "zero": false}}, "text": {"field": "hrt"}}},
{"data": {"values": [{}]}, "mark": {"type": "rule", "color": "#000", "strokeWidth": 1.2, "strokeDash": [1.5, 1]},
 "encoding": {"x": {"datum": 1.0, "type": "quantitative", "scale": {"domain": [-0.48, 3.06], "nice": false, "zero": false}, "axis": {"values": [0.5, 1, 1.5, 2], "format": ".1f", "domain": false, "grid": false, "title": null, "tickSize": 3, "tickColor": "#000", "tickWidth": 0.8, "labelFontSize": 6.5, "labelColor": "#000", "labelPadding": 2, "labelFont": "Liberation Serif"}},
  "y": {"datum": 0.8, "type": "quantitative", "axis": null, "scale": {"domain": [-2.36, 32.86], "reverse": true, "nice": false, "zero": false}}, "y2": {"datum": 32.86}}},
{"data": {"values": [{}]}, "mark": {"type": "rule", "color": "#000", "strokeWidth": 0.8},
 "encoding": {"x": {"datum": 0.5, "type": "quantitative", "scale": {"domain": [-0.48, 3.06], "nice": false, "zero": false}, "axis": {"values": [0.5, 1, 1.5, 2], "format": ".1f", "domain": false, "grid": false, "title": null, "tickSize": 3, "tickColor": "#000", "tickWidth": 0.8, "labelFontSize": 6.5, "labelColor": "#000", "labelPadding": 2, "labelFont": "Liberation Serif"}}, "x2": {"datum": 2.0},
  "y": {"datum": 32.86, "type": "quantitative", "axis": null, "scale": {"domain": [-2.36, 32.86], "reverse": true, "nice": false, "zero": false}}}},
{"mark": {"type": "rule", "color": "#555", "strokeWidth": 0.8},
 "encoding": {"x": {"field": "lo", "type": "quantitative", "scale": {"domain": [-0.48, 3.06], "nice": false, "zero": false}, "axis": {"values": [0.5, 1, 1.5, 2], "format": ".1f", "domain": false, "grid": false, "title": null, "tickSize": 3, "tickColor": "#000", "tickWidth": 0.8, "labelFontSize": 6.5, "labelColor": "#000", "labelPadding": 2, "labelFont": "Liberation Serif"}}, "x2": {"field": "hi"},
  "y": {"field": "id", "type": "quantitative", "axis": null, "scale": {"domain": [-2.36, 32.86], "reverse": true, "nice": false, "zero": false}}}},
{"mark": {"type": "square", "color": "#000", "size": 14, "opacity": 1},
 "encoding": {"x": {"field": "hr", "type": "quantitative", "scale": {"domain": [-0.48, 3.06], "nice": false, "zero": false}, "axis": {"values": [0.5, 1, 1.5, 2], "format": ".1f", "domain": false, "grid": false, "title": null, "tickSize": 3, "tickColor": "#000", "tickWidth": 0.8, "labelFontSize": 6.5, "labelColor": "#000", "labelPadding": 2, "labelFont": "Liberation Serif"}},
  "y": {"field": "id", "type": "quantitative", "axis": null, "scale": {"domain": [-2.36, 32.86], "reverse": true, "nice": false, "zero": false}}}}
]
}
]
}
